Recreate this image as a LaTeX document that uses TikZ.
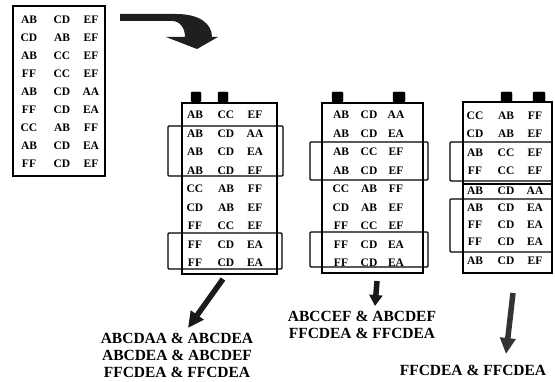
\documentclass[tikz,border=0pt]{standalone}
\usepackage{fontspec}
\setmainfont{Liberation Serif}
\usetikzlibrary{arrows.meta}
\tikzset{
  frame/.style={draw=black, line width=1.3pt},
  bracketbox/.style={draw=black, line width=1.2pt, rounded corners=1pt},
  tab/.style={fill=black, draw=black, rounded corners=1pt},
  cell/.style={inner sep=0pt, font=\fontsize{11.5}{12}\selectfont\bfseries},
  result/.style={inner sep=0pt, align=center, font=\fontsize{15.5}{17}\selectfont\bfseries},
  bigarrow/.style={line width=5.5pt, -{Triangle[width=15pt,length=16pt]}, draw=black!90},
}
\begin{document}
\begin{tikzpicture}[x=1pt,y=-1pt]
\useasboundingbox (0,0) rectangle (555,382);

% ---------- left list ----------
\draw[frame] (13,6) rectangle (105,176);
\foreach \a/\b/\c [count=\i from 0] in {AB/CD/EF,CD/AB/EF,AB/CC/EF,FF/CC/EF,AB/CD/AA,FF/CD/EA,CC/AB/FF,AB/CD/EA,FF/CD/EF}{
  \node[cell] (L-\i-a) at (29,20+18*\i) {\a};
  \node[cell] (L-\i-b) at (62,20+18*\i) {\b};
  \node[cell] (L-\i-c) at (91,20+18*\i) {\c};
}

% ---------- curved arrow ----------
\fill[black!88] (120,14) -- (176,14) .. controls (200,14) and (212,24) .. (212,37)
  -- (218,37) -- (197,49) -- (166,37) -- (185,37)
  .. controls (185,28) and (180,21) .. (172,21) -- (120,21) -- cycle;

% ---------- column 1 ----------
\draw[tab] (191,92) rectangle (201,102);
\draw[tab] (218,92) rectangle (228,102);
\draw[frame] (182,103) rectangle (277,274);
\foreach \a/\b/\c [count=\i from 0] in {AB/CC/EF,AB/CD/AA,AB/CD/EA,AB/CD/EF,CC/AB/FF,CD/AB/EF,FF/CC/EF,FF/CD/EA,FF/CD/EA}{
  \node[cell] (A-\i-a) at (195,115+18.5*\i) {\a};
  \node[cell] (A-\i-b) at (226,115+18.5*\i) {\b};
  \node[cell] (A-\i-c) at (255,115+18.5*\i) {\c};
}
\draw[bracketbox] (168,126) rectangle (283,176);
\draw[bracketbox] (168,233) rectangle (282,269);

% ---------- column 2 ----------
\draw[tab] (332,92) rectangle (343,102);
\draw[tab] (393,92) rectangle (405,102);
\draw[frame] (322,103) rectangle (423,273);
\foreach \a/\b/\c [count=\i from 0] in {AB/CD/AA,AB/CD/EA,AB/CC/EF,AB/CD/EF,CC/AB/FF,CD/AB/EF,FF/CC/EF,FF/CD/EA,FF/CD/EA}{
  \node[cell] (B-\i-a) at (341,115+18.5*\i) {\a};
  \node[cell] (B-\i-b) at (369,115+18.5*\i) {\b};
  \node[cell] (B-\i-c) at (396,115+18.5*\i) {\c};
}
\draw[bracketbox] (310,142) rectangle (428,180);
\draw[bracketbox] (310,232) rectangle (428,267);

% ---------- column 3 ----------
\draw[tab] (501,92) rectangle (512,102);
\draw[tab] (533,92) rectangle (545,102);
\draw[frame] (463,102) rectangle (552,273);
\foreach \a/\b/\c/\y [count=\i from 0] in {CC/AB/FF/116,CD/AB/EF/134,AB/CC/EF/153,FF/CC/EF/171,AB/CD/AA/191,AB/CD/EA/208,FF/CD/EA/225,FF/CD/EA/242,AB/CD/EF/261}{
  \node[cell] (C-\i-a) at (475,\y) {\a};
  \node[cell] (C-\i-b) at (506,\y) {\b};
  \node[cell] (C-\i-c) at (535,\y) {\c};
}
\draw[bracketbox] (450,142) rectangle (552,181);
\draw[frame] (463,184) -- (552,184);
\draw[bracketbox] (450,199) rectangle (552,252);

% ---------- results ----------
\node[result] (r1) at (177,355) {ABCDAA \& ABCDEA\\ABCDEA \& ABCDEF\\FFCDEA \& FFCDEA};
\node[result] (r2) at (362,325) {ABCCEF \& ABCDEF\\FFCDEA \& FFCDEA};
\node[result] (r3) at (473,370) {FFCDEA \& FFCDEA};

\coordinate (a1s) at (223,279);
\coordinate (a1e) at (188,328);
\coordinate (a2s) at (377,281);
\coordinate (a2e) at (375,306);
\coordinate (a3s) at (513,293);
\coordinate (a3e) at (506,354);
\draw[bigarrow] (a1s) -- (a1e);
\draw[bigarrow, -{Triangle[width=13pt,length=11pt]}] (a2s) -- (a2e);
\draw[bigarrow, draw=black!80] (a3s) -- (a3e);
\end{tikzpicture}
\end{document}
